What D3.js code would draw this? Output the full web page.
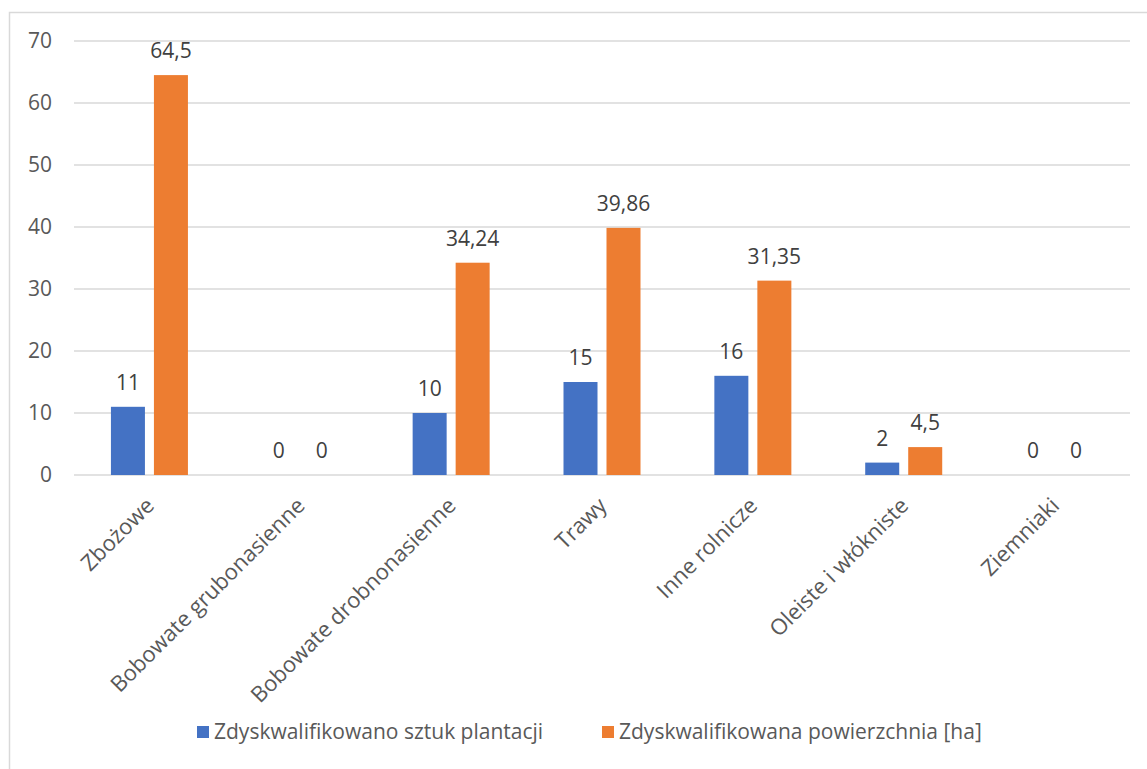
<!DOCTYPE html>
<html>
<head>
<meta charset="utf-8">
<script src="https://cdn.jsdelivr.net/npm/d3@7"></script>
<style>
  html, body { margin: 0; padding: 0; background: #fff; }
  svg { display: block; font-family: "Open Sans", "Noto Sans", sans-serif; }
</style>
</head>
<body>
<svg id="chart" width="1147" height="769"></svg>
<script>
const categories = ["Zbożowe", "Bobowate grubonasienne", "Bobowate drobnonasienne", "Trawy", "Inne rolnicze", "Oleiste i włókniste", "Ziemniaki"];
const seriesNames = ["Zdyskwalifikowano sztuk plantacji", "Zdyskwalifikowana powierzchnia [ha]"];
const plantacje = [11, 0, 10, 15, 16, 2, 0];
const powierzchnia = [64.5, 0, 34.24, 39.86, 31.35, 4.5, 0];
const yTicks = [0, 10, 20, 30, 40, 50, 60, 70];
const colors = ["#4472C4", "#ED7D31"];

const svg = d3.select("#chart");
const plot = { left: 74, right: 1130, top: 41, bottom: 475 };

// outer border (left/top visible; rest cropped)
svg.append("rect").attr("x", 9.5).attr("y", 12.5).attr("width", 1200).attr("height", 800)
  .attr("fill", "none").attr("stroke", "#d9d9d9").attr("stroke-width", 1.5);

const x0 = d3.scaleBand().domain(categories).range([plot.left, plot.right]).paddingInner(0).paddingOuter(0);
const y = d3.scaleLinear().domain([0, 70]).range([plot.bottom, plot.top]);

// gridlines
svg.append("g").selectAll("line").data(yTicks).join("line")
  .attr("x1", plot.left).attr("x2", plot.right)
  .attr("y1", d => y(d)).attr("y2", d => y(d))
  .attr("stroke", "#d9d9d9").attr("stroke-width", 1.3);

// y axis labels
const yAxis = d3.axisLeft(y).tickValues(yTicks).tickSize(0).tickPadding(0).tickFormat(d3.format("d"));
const gy = svg.append("g").attr("transform", `translate(52,0)`).call(yAxis);
gy.select(".domain").remove();
gy.selectAll("text").attr("font-size", 21).attr("fill", "#595959").attr("font-family", "Open Sans");

const barW = 34, gap = 9;
const data = categories.map((c, i) => ({ c, vals: [plantacje[i], powierzchnia[i]] }));
const fmt = v => String(v).replace(".", ",");

const groups = svg.append("g").selectAll("g").data(data).join("g")
  .attr("transform", d => `translate(${x0(d.c) + x0.bandwidth() / 2},0)`);

groups.selectAll("rect").data(d => d.vals.map((v, k) => ({ v, k }))).join("rect")
  .attr("x", d => d.k === 0 ? -(gap / 2 + barW) : gap / 2)
  .attr("width", barW)
  .attr("y", d => y(d.v))
  .attr("height", d => y(0) - y(d.v))
  .attr("fill", d => colors[d.k]);

groups.selectAll("text.lbl").data(d => d.vals.map((v, k) => ({ v, k }))).join("text")
  .attr("class", "lbl")
  .attr("x", d => d.k === 0 ? -(gap / 2 + barW / 2) : gap / 2 + barW / 2)
  .attr("y", d => y(d.v) - 17)
  .attr("text-anchor", "middle")
  .attr("font-size", 21)
  .attr("fill", "#404040")
  .text(d => fmt(d.v));

// category labels
const xAxis = d3.axisBottom(x0).tickSize(0).tickPadding(0);
const gx = svg.append("g").attr("transform", `translate(0,${plot.bottom})`).call(xAxis);
gx.select(".domain").remove();
gx.selectAll("text")
  .attr("font-size", 22).attr("fill", "#595959").attr("font-family", "Open Sans")
  .attr("text-anchor", "end")
  .attr("dy", 0)
  .attr("y", 0)
  .attr("transform", "translate(6,32) rotate(-45)");

// legend
const legend = svg.append("g").attr("transform", "translate(0,732)");
const legX = [197, 602];
seriesNames.forEach((n, k) => {
  legend.append("rect").attr("x", legX[k]).attr("y", -6).attr("width", 12).attr("height", 12).attr("fill", colors[k]);
  legend.append("text").attr("x", legX[k] + 17).attr("y", 0).attr("dy", "0.35em")
    .attr("font-size", 21).attr("fill", "#595959").text(n);
});
</script>
</body>
</html>
